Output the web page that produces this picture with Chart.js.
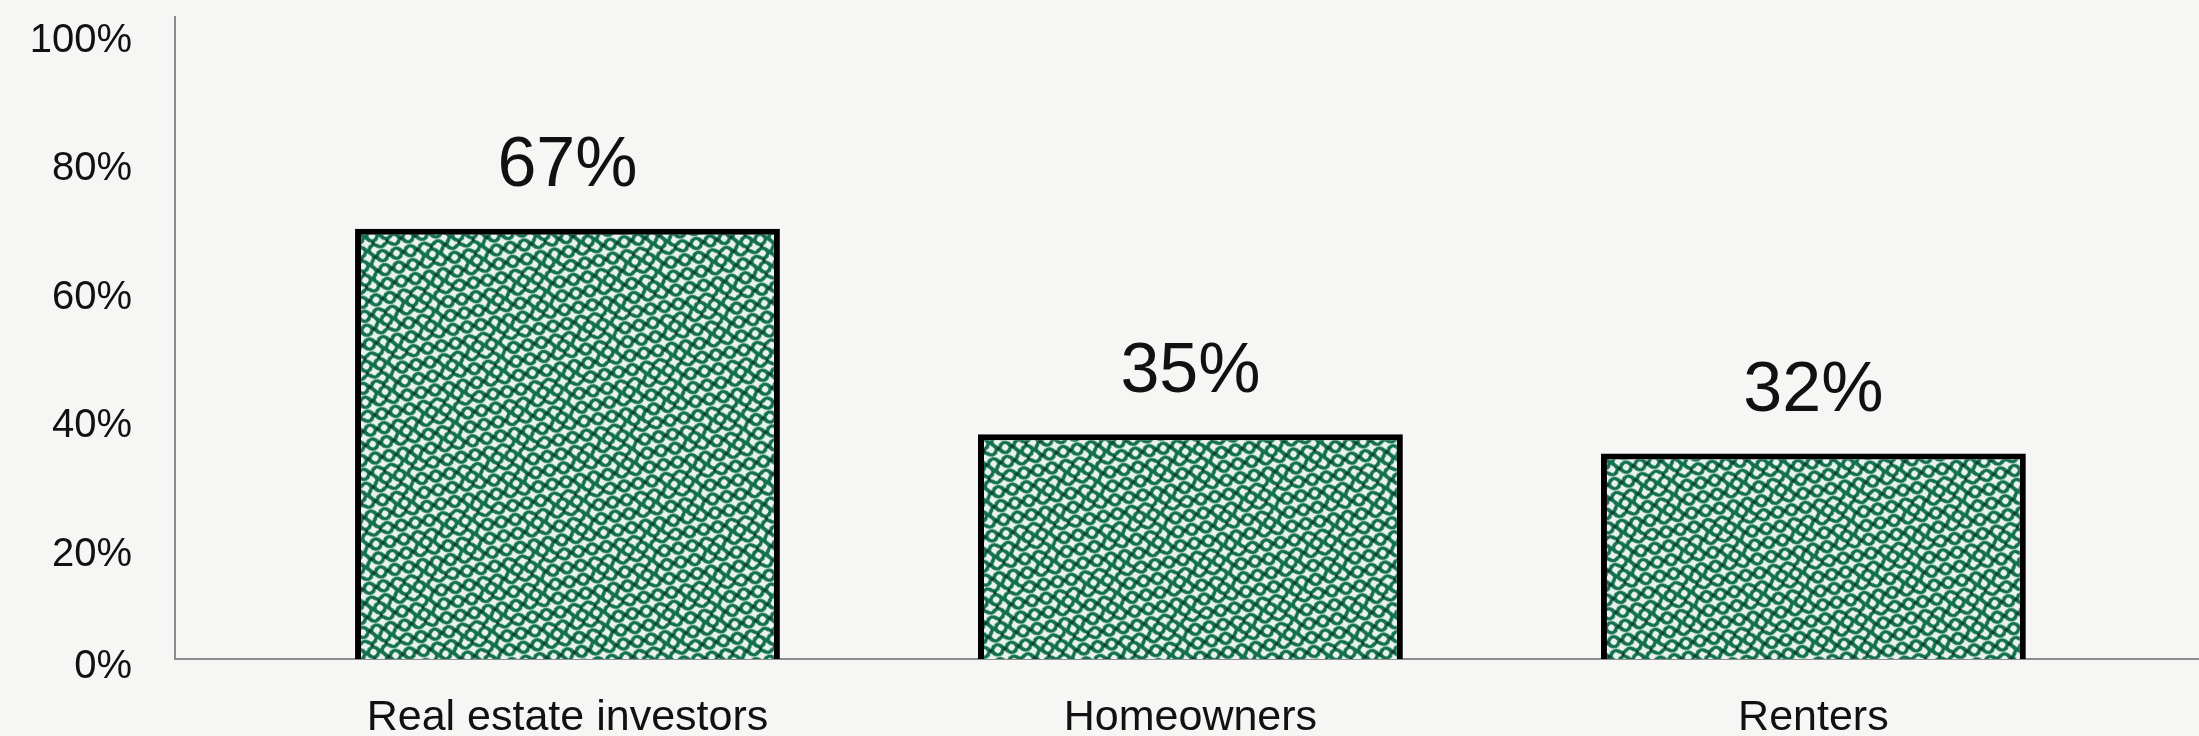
<!DOCTYPE html>
<html>
<head>
<meta charset="utf-8">
<script src="https://cdn.jsdelivr.net/npm/chart.js@4/dist/chart.umd.min.js"></script>
<style>
  html, body { margin: 0; padding: 0; background: #f6f6f5; }
  #wrap { width: 2199px; height: 736px; }
</style>
</head>
<body>
<div id="wrap"><canvas id="c" width="2199" height="736"></canvas></div>
<script>
const categories = ['Real estate investors', 'Homeowners', 'Renters'];
const shares = [67, 35, 32];
const yTickValues = [0, 20, 40, 60, 80, 100];

const FONT = '"Liberation Sans", "Helvetica Neue", Helvetica, Arial, sans-serif';

// Texture for the bars (Truchet-style labyrinth, green on pale mint)
function makePattern() {
  const s = 10, n = 8;
  const orient = [
    [0,1,1,0,1,0,0,1],
    [1,0,0,1,1,1,0,0],
    [0,1,0,1,0,0,1,1],
    [1,1,0,0,1,0,1,0],
    [0,0,1,1,0,1,0,1],
    [1,0,1,0,0,1,1,0],
    [0,1,0,0,1,1,0,1],
    [1,0,1,1,0,0,1,0]
  ];
  const t = document.createElement('canvas');
  t.width = s * n; t.height = s * n;
  const g = t.getContext('2d');
  g.fillStyle = '#e8f3ed';
  g.fillRect(0, 0, t.width, t.height);
  g.strokeStyle = '#13704e';
  g.lineWidth = 3.6;
  g.lineCap = 'round';
  for (let r = 0; r < n; r++) {
    for (let c = 0; c < n; c++) {
      const x = c * s, y = r * s;
      g.beginPath();
      if (orient[r][c]) {
        g.arc(x, y, s / 2, 0, Math.PI / 2);
        g.moveTo(x + s / 2, y + s);
        g.arc(x + s, y + s, s / 2, Math.PI, Math.PI * 1.5);
      } else {
        g.arc(x + s, y, s / 2, Math.PI / 2, Math.PI);
        g.moveTo(x + s, y + s / 2);
        g.arc(x, y + s, s / 2, -Math.PI / 2, 0);
      }
      g.stroke();
    }
  }
  g.fillStyle = '#0f3a2b';
  for (let r = 0; r < n; r++) {
    for (let c = 0; c < n; c++) {
      if ((r + c) % 2 === 0) {
        g.beginPath();
        g.arc(c * s + s / 2, r * s + s / 2, 1.8, 0, Math.PI * 2);
        g.fill();
      }
    }
  }
  const p = g.createPattern(t, 'repeat');
  if (p.setTransform && window.DOMMatrix) {
    p.setTransform(new DOMMatrix().rotateSelf(35));
  }
  return p;
}

const valueLabels = {
  id: 'valueLabels',
  afterDatasetsDraw(chart) {
    const ctx = chart.ctx;
    const meta = chart.getDatasetMeta(0);
    ctx.save();
    ctx.font = '70px ' + FONT;
    ctx.fillStyle = '#111';
    ctx.textAlign = 'center';
    ctx.textBaseline = 'middle';
    meta.data.forEach((bar, i) => {
      ctx.fillText(shares[i] + '%', bar.x, bar.y - 62);
    });
    ctx.restore();
  }
};

const ctx = document.getElementById('c').getContext('2d');
new Chart(ctx, {
  type: 'bar',
  data: {
    datasets: [{
      data: categories.map((c, i) => ({ x: i, y: shares[i] })),
      backgroundColor: makePattern(),
      borderColor: '#000',
      borderWidth: 6,
      barPercentage: 0.682,
      categoryPercentage: 1
    }]
  },
  options: {
    responsive: false,
    animation: false,
    devicePixelRatio: 1,
    layout: { padding: { top: 17, left: 0, right: 0, bottom: 0 } },
    plugins: { legend: { display: false }, tooltip: { enabled: false } },
    scales: {
      x: {
        type: 'linear',
        min: -0.63,
        max: 2.619,
        bounds: 'data',
        offset: false,
        grace: 0,
        afterBuildTicks: (s) => { s.ticks = categories.map((_, i) => ({ value: i })); },
        afterFit: (s) => { s.paddingLeft = 0; s.paddingRight = 0; s.height = 77; },
        grid: { display: false, drawTicks: false, offset: false },
        border: { display: true, color: '#8c8c8c', width: 2 },
        ticks: {
          autoSkip: false,
          maxRotation: 0,
          padding: 38,
          color: '#111',
          font: { family: FONT, size: 43, lineHeight: 1 },
          callback: (v) => categories[v]
        }
      },
      y: {
        min: 0,
        max: 100,
        bounds: 'data',
        afterBuildTicks: (s) => { s.ticks = yTickValues.map(v => ({ value: v })); },
        afterFit: (s) => { s.width = 175; s.paddingTop = 0; s.paddingBottom = 0; },
        grid: { display: false, drawTicks: false },
        border: { display: true, color: '#8c8c8c', width: 2 },
        ticks: {
          padding: 43,
          labelOffset: 24,
          color: '#111',
          font: (c) => ({ family: FONT, size: 40, lineHeight: (c.tick && c.tick.value === 0) ? 0.8 : 1.2 }),
          callback: (v) => v === 0 ? ['0%', ''] : v + '%'
        }
      }
    }
  },
  plugins: [valueLabels]
});
</script>
</body>
</html>
